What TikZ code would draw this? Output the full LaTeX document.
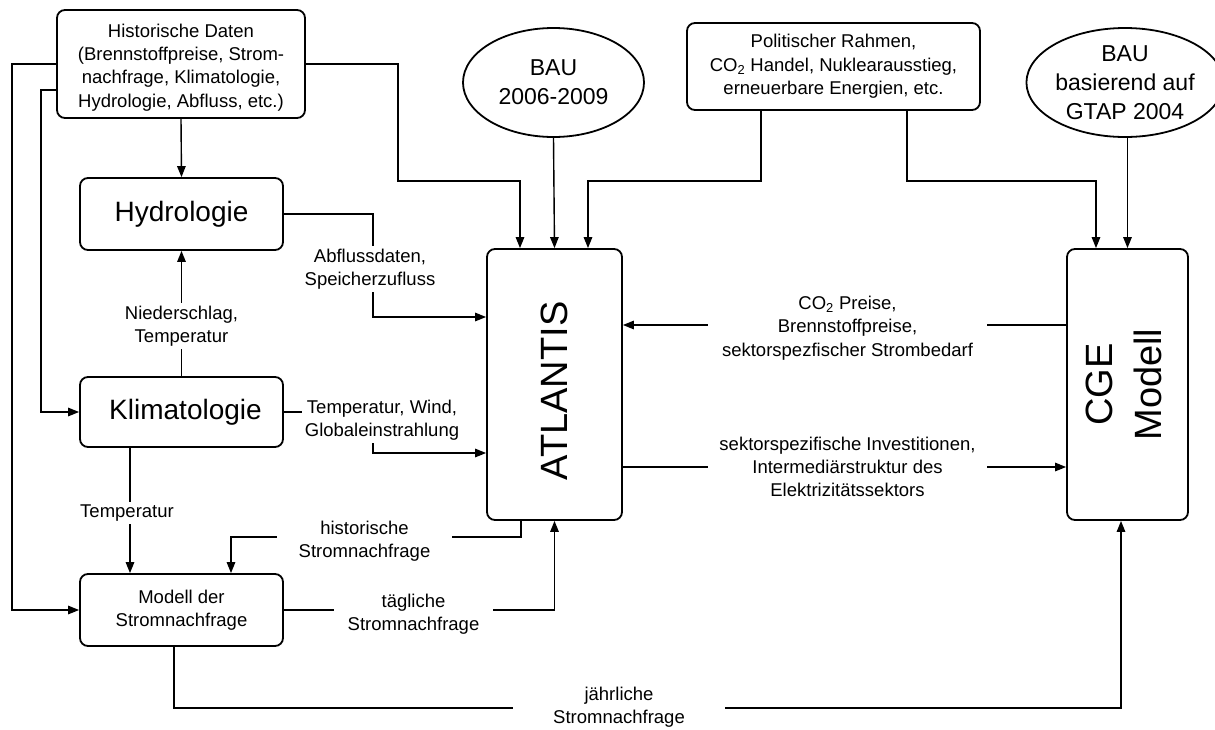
\documentclass[tikz,border=0pt]{standalone}
\usepackage{fontspec}
\setmainfont{Liberation Sans}
\usepackage{graphicx}
\usetikzlibrary{arrows.meta,shapes.geometric}
\newcommand\fsmall{\fontsize{18.5}{23.3}\selectfont}
\newcommand\fmid{\fontsize{28}{34}\selectfont}
\newcommand\fell{\fontsize{23}{29}\selectfont}
\newcommand\fbig{\fontsize{38}{48}\selectfont}
\tikzset{
  box/.style={draw, line width=1.8pt, rounded corners=8pt, align=center, inner sep=0pt},
  ell/.style={draw, ellipse, line width=1.8pt, align=center, inner sep=0pt, font=\fell},
  conn/.style={line width=1.4pt},
  arr/.style={conn, -{Triangle[length=11pt,width=8.5pt]}},
  lbl/.style={fill=white, align=center, inner sep=3pt, font=\fsmall},
  plain/.style={align=center, inner sep=0pt, font=\fsmall}
}
\begin{document}
\begin{tikzpicture}[x=1pt,y=-1pt]
\useasboundingbox (0,0) rectangle (1215,729);

% nodes
\node[box, minimum width=248pt, minimum height=108pt] (hist) at (181,64) {};
\node[plain] (histtext) at (181,67.5)
  {Historische Daten\\(Brennstoffpreise, Strom-\\nachfrage, Klimatologie,\\Hydrologie, Abfluss, etc.)};
\node[box, minimum width=203pt, minimum height=72pt, font=\fmid] (hydro) at (181.5,214) {Hydrologie};
\node[box, minimum width=203pt, minimum height=70pt, font=\fmid] (klim) at (181.5,412) {\hspace{8pt}Klimatologie};
\node[box, minimum width=203pt, minimum height=72pt, font=\fsmall] (modell) at (181.5,610) {Modell der\\Stromnachfrage};
\node[ell, minimum width=181pt, minimum height=109pt] (bau1) at (553.5,82.5) {BAU\\2006-2009};
\node[box, minimum width=293pt, minimum height=87pt, font=\fsmall] (pol) at (833.5,66.5)
  {Politischer Rahmen,\\CO\textsubscript{2} Handel, Nuklearausstieg,\\erneuerbare Energien, etc.};
\node[ell, minimum width=176pt, minimum height=109pt] (bau2) at (1125,82.5) {BAU\\basierend auf\\GTAP 2004};
\node[box, minimum width=135pt, minimum height=271pt, font=\fbig] (atl) at (554.5,384.5)
  {\rotatebox{90}{ATLANTIS\hspace{13pt}}};
\node[box, minimum width=121pt, minimum height=271pt, font=\fbig] (cge) at (1127.5,384.5)
  {\rotatebox{90}{\raisebox{-3pt}{\begin{tabular}{@{}c@{}}CGE\\[1pt]Modell\end{tabular}}}};

% connectors
\draw[arr] (hist.west) -- (12,64) |- (modell.west);
\draw[arr] (hist.west |- 0,90) -- (41,90) |- (klim.west);
\draw[arr] (hist.east) -| (398,181) -| ([xshift=-34.5pt]atl.north);
\draw[arr] (hist.south) -- (hydro.north);
\draw[arr] (bau1.south) -- (atl.north);
\draw[arr] ([xshift=-72.5pt]pol.south) |- (588,181) -- ([xshift=33.5pt]atl.north);
\draw[arr] ([xshift=73.5pt]pol.south) |- (1096,181) -- ([xshift=-31.5pt]cge.north);
\draw[arr] (bau2.south -| cge.north) -- (cge.north);
\draw[arr] (hydro.east) -| (373,317) -- (atl.west |- 0,317);
\draw[arr] (klim.north) -- (hydro.south);
\draw[arr] (klim.east) -| (373,453) -- (atl.west |- 0,453);
\draw[arr] ([xshift=-51.5pt]klim.south) -- ([xshift=-51.5pt]modell.north);
\draw[arr] ([xshift=-33.5pt]atl.south) |- (231,537) -- ([xshift=49.5pt]modell.north);
\draw[arr] (modell.east) -| (atl.south);
\draw[arr] ([xshift=-7.5pt]modell.south) |- (1121,708) -- ([xshift=-6.5pt]cge.south);
\draw[arr] (cge.west |- 0,325) -- (atl.east |- 0,325);
\draw[arr] (atl.east |- 0,467) -- (cge.west |- 0,467);

% labels
\node[lbl] (l1) at (370,269) {Abflussdaten,\\Speicherzufluss};
\node[lbl] (l2) at (181.5,326) {Niederschlag,\\Temperatur};
\node[lbl] (l3) at (382,420) {Temperatur, Wind,\\Globaleinstrahlung};
\node[lbl] (l4) at (127,513) {Temperatur};
\node[lbl, minimum width=175pt] (l5) at (364.5,541) {historische\\Stromnachfrage};
\node[lbl, minimum width=159pt] (l6) at (413.5,614) {tägliche\\Stromnachfrage};
\node[lbl, minimum width=212pt] (l7) at (619,707) {jährliche\\Stromnachfrage};
\node[lbl, minimum width=279pt] (l8) at (847.5,328) {CO\textsubscript{2} Preise,\\Brennstoffpreise,\\sektorspezfischer Strombedarf};
\node[lbl, minimum width=279pt] (l9) at (847.5,467) {sektorspezifische Investitionen,\\Intermediärstruktur des\\Elektrizitätssektors};
\end{tikzpicture}
\end{document}
